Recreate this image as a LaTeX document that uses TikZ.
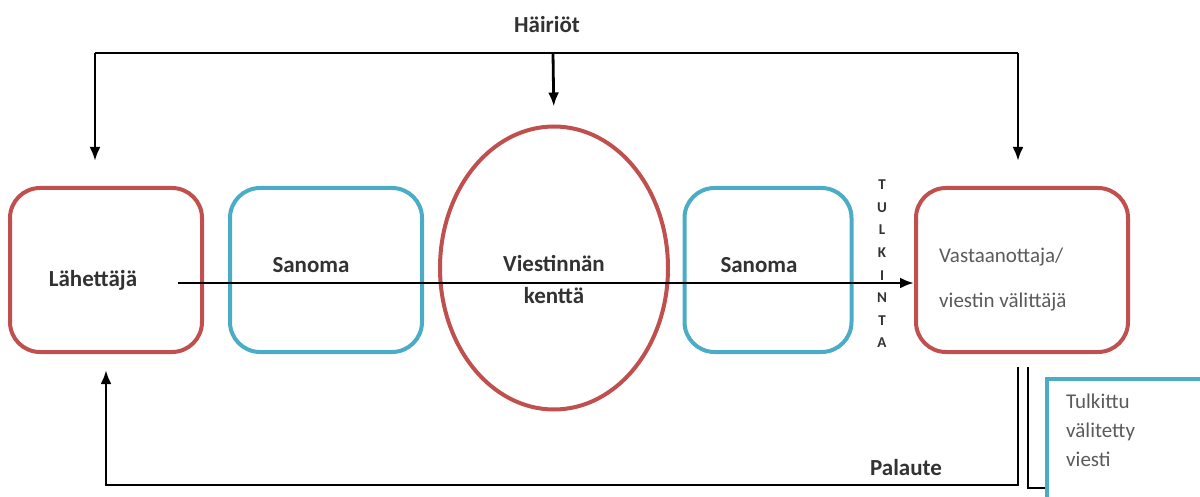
\documentclass[tikz,border=0pt]{standalone}
\usepackage{fontspec}
\setmainfont{Carlito}
\usetikzlibrary{shapes.geometric,positioning,arrows.meta}

\definecolor{boxred}{RGB}{192,80,77}
\definecolor{boxblue}{RGB}{75,172,198}
\definecolor{txtdark}{RGB}{50,50,50}
\definecolor{txtgrey}{RGB}{90,90,90}

\tikzset{
    redbox/.style={draw=boxred, line width=4pt, rounded corners=30pt,
        minimum height=164pt},
    bluebox/.style={draw=boxblue, line width=4pt, rounded corners=30pt,
        minimum height=164pt},
    boldtxt/.style={text=txtdark, font=\bfseries\fontsize{23}{32}\selectfont,
        inner sep=0pt},
    thintxt/.style={text=txtgrey, inner sep=0pt},
    line/.style={draw=black, line width=2.8pt},
    arr/.style={line, -{Latex[length=14pt,width=11pt]}}
}

\begin{document}
\begin{tikzpicture}[x=1pt, y=-1pt]
\useasboundingbox (0,0) rectangle (1200,497);

% Sender
\node[redbox, minimum width=192pt,
    label={[boldtxt, xshift=-13pt, yshift=-10pt]center:Lähettäjä}
] (snd) at (106,270) {};

% Message boxes
\node[bluebox, minimum width=192pt,
    label={[boldtxt, xshift=-15pt, yshift=5pt]center:Sanoma}
] (msg1) at (326,270) {};

\node[bluebox, minimum width=167pt,
    label={[boldtxt, xshift=-9pt, yshift=5pt]center:Sanoma}
] (msg2) at (768,270) {};

% Field of communication
\node[draw=boxred, line width=4pt, ellipse,
    minimum width=228pt,
    minimum height=283pt,
    label={[boldtxt, align=center, yshift=-11pt]center:Viestinnän\\kenttä}
] (field) at (554,268) {};

% Receiver
\node[redbox, minimum width=212pt,
    label={[thintxt, anchor=west, align=left, xshift=25pt, yshift=-10pt,
        font=\fontsize{21}{45}\selectfont]west:Vastaanottaja/\\viestin välittäjä}
] (recv) at (1022,270) {};

\node[text=txtdark, font=\bfseries\fontsize{15}{22.6}\selectfont,
    align=center, inner sep=0pt] (tulk) at (882,264) {T\\U\\L\\K\\I\\N\\T\\A};

% Output
\node[draw=boxblue, line width=4pt, anchor=north west,
    minimum width=200pt,
    minimum height=150pt,
    label={[thintxt, anchor=north west, align=left, xshift=21pt, yshift=-17pt,
        font=\fontsize{21}{29}\selectfont]north west:Tulkittu\\välitetty\\viesti}
] (out) at (1045,377) {};

% Disturbances
\node[boldtxt] (dist) at (547,25) {Häiriöt};
\coordinate (hl) at (95,53);
\coordinate (hm) at (553,53);
\coordinate (hr) at (1018,53);

% Feedback
\node[boldtxt] (fb) at (906,468) {Palaute};
\coordinate (fbr) at (1018,367);
\coordinate (fbl) at (106,485);
\coordinate (fbo) at (1028,367);
\coordinate (fbe) at (1045,488);
\coordinate (start) at (178,283);

% Arrows
\draw[line] (hl) -- (hr);
\draw[arr, shorten >=25pt] (hl) -- (hl |- snd.north);
\draw[arr, shorten >=18pt] (hm) -- (field.north);
\draw[arr, shorten >=25pt] (hr) -- (hr |- recv.north);
\draw[arr] (start) -- (start -| recv.west);
\draw[arr, shorten >=16pt] (fbr) |- (fbl) -- (fbl |- snd.south);
\draw[line] (fbo) |- (fbe);

\end{tikzpicture}
\end{document}
